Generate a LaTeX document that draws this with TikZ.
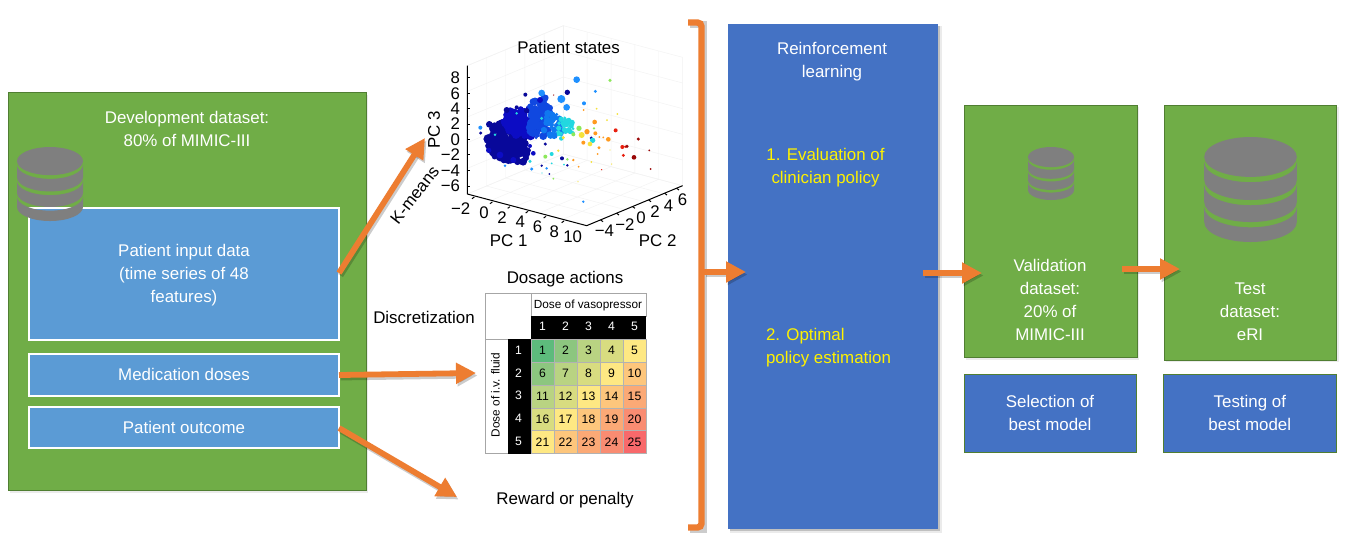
\documentclass[tikz,border=0pt]{standalone}
\usepackage{fontspec}
\setmainfont{Liberation Sans}
\usetikzlibrary{arrows.meta,calc}
\definecolor{grn}{HTML}{70AD47}
\definecolor{grnd}{HTML}{507E32}
\definecolor{lblue}{HTML}{5B9BD5}
\definecolor{dblue}{HTML}{4472C4}
\definecolor{orng}{HTML}{ED7D31}
\definecolor{dbgray}{HTML}{7F7F7F}
\tikzset{
  x=0.5pt,y=-0.5pt,
  every node/.style={font=\fontsize{8.45}{11.5}\selectfont,align=center,inner sep=0,outer sep=0},
  grnbox/.style={draw=grnd,line width=0.5pt,fill=grn},
  inbox/.style={draw=white,line width=0.9pt,fill=lblue},
  dbbox/.style={draw=grnd,line width=0.4pt,fill=dblue},
  wtext/.style={text=white},
  ytext/.style={text=yellow},
  bigarrow/.style={draw=orng,line width=2.9pt,-{Triangle[length=10pt,width=10pt]}},
  shadowarrow/.style={draw=black,opacity=0.2,line width=2.9pt,-{Triangle[length=10pt,width=10pt]}},
  gridln/.style={draw=black!5,line width=0.2pt},
  axln/.style={draw=black,line width=0.5pt},
  tick/.style={font=\fontsize{8.4}{10}\selectfont},
  small/.style={font=\fontsize{5.9}{7}\selectfont},
  cellnum/.style={font=\fontsize{6.1}{7}\selectfont},
}
\newcommand{\dbicon}[4]{% cx, top y, half width, height
  \begin{scope}[shift={(#1,#2)},x=#3*0.5pt/100,y=-#4*0.5pt/100]
    \fill[dbgray] (0,19) ellipse[x radius=100,y radius=19];
    \foreach \up/\lo in {24/41,46/62,67/81}{
      \fill[dbgray] (-100,\up) arc[start angle=180,end angle=0,x radius=100,y radius=19]
        -- (100,\lo) arc[start angle=0,end angle=180,x radius=100,y radius=19] -- cycle;
    }
  \end{scope}}
\newcommand{\dotlist}[2]{\foreach \a/\b/\r in {#2}{\fill[#1] (\a,\b) circle[radius=\r];}}
\newcommand{\blobs}[8]{% colour,count,cx,cy,sx,sy,rmin,rspan
  \foreach \i in {1,...,#2}{
    \pgfmathsetmacro{\angl}{360*rnd}\pgfmathsetmacro{\ss}{sqrt(rnd)}\pgfmathsetmacro{\rr}{#7+#8*rnd}
    \pgfmathsetmacro{\a}{#3+#5*\ss*cos(\angl)}
    \pgfmathsetmacro{\b}{#4+#6*\ss*sin(\angl)}
    \fill[#1] (\a,\b) circle[radius=\rr];
  }}
\begin{document}
\begin{tikzpicture}
\useasboundingbox (0,0) rectangle (1352,554);
\fill[white] (0,0) rectangle (1352,554);

% Development dataset
\fill[black,opacity=0.08] (10,95) rectangle (368,493);
\node[grnbox,minimum width=179pt,minimum height=199pt,anchor=north west] (dev) at (8,92.5) {};
\node[wtext] (devt) at (187,129) {Development dataset:\\80\% of MIMIC-III};
\node[inbox,minimum width=155pt,minimum height=66pt,anchor=north west] (input) at (29,208) {};
\node[wtext] (inputt) at (184,275) {Patient input data\\(time series of 48\\features)};
\node[inbox,minimum width=155pt,minimum height=21pt,anchor=north west] (med) at (29,354) {};
\node[wtext] at ($(med.center)+(0,-0.8)$) {Medication doses};
\node[inbox,minimum width=155pt,minimum height=20.5pt,anchor=north west] (out) at (29,407) {};
\node[wtext] at ($(out.center)+(0,-0.5)$) {Patient outcome};
\dbicon{50}{147}{33}{74}

% Scatter plot, drawn in the coordinates of a 3x crop
\begin{scope}[shift={(360,20)},x=0.5pt/3,y=-0.5pt/3]
  \foreach \t in {0,0.2,0.4,0.6,0.8,1}{
    \draw[gridln] ($(322,522)!\t!(680,617)$) -- ($(322,522)!\t!(680,617)+(288,-120)$) -- ++(0,-385);
    \draw[gridln] ($(680,617)!\t!(968,497)$) -- ($(680,617)!\t!(968,497)+(-358,-95)$) -- ++(0,-385);
    \draw[gridln] ($(322,522)!\t!(322,137)$) -- ++(288,-120) -- ++(358,95);
  }
  \draw[gridln] (322,137) -- (610,17);
  \draw[axln] (322,137) -- (322,522) -- (680,617) -- (968,497);
  \foreach \yy in {173,220,266,312,358,404,451,498}{\draw[axln] (322,\yy) -- (330,\yy);}
  \foreach \a/\b in {343/531,397/546,450/560,504/574,558/589,612/603}{\draw[axln] (\a,\b) -- ++(-7,5);}
  \foreach \a/\b in {722/600,770/580,818/560,866/540,914/520,950/505}{\draw[axln] (\a,\b) -- ++(7,5);}
  \foreach \l/\yy in {8/173,6/220,4/266,2/312,0/358,{−2}/404,{−4}/451,{−6}/498}{\node[tick,anchor=east] at (300,\yy) {\l};}
  \foreach \l/\a/\b in {{−2}/302/566,0/372/578,2/426/592,4/481/606,6/533/620,8/583/634,10/638/650}{\node[tick] at (\a,\b) {\l};}
  \foreach \l/\a/\b in {{−4}/733/632,{−2}/795/614,0/843/592,2/885/576,4/926/556,6/968/538}{\node[tick] at (\a,\b) {\l};}
  \node (pc1) at (446,663) {PC 1};
  \node (pc2) at (893,663) {PC 2};
  \node[rotate=90] (pc3) at (222,330) {PC 3};
  \node (pst) at (626,81) {Patient states};
  \node[rotate=52] (km) at (164,525) {K-means};

  \definecolor{jb}{HTML}{1E90FF}
  \definecolor{jc}{HTML}{22D8E0}
  \definecolor{jg}{HTML}{8CE85A}
  \definecolor{jy}{HTML}{F5E23A}
  \definecolor{jo}{HTML}{FF9A1E}
  \definecolor{jr}{HTML}{E8200F}
  \definecolor{jd}{HTML}{9A0808}
  \definecolor{jn}{HTML}{08089A}
  \definecolor{jm}{HTML}{0C0CC4}
  \definecolor{jl}{HTML}{1048E0}
  \definecolor{jk}{HTML}{1078F0}
  \definecolor{jt}{HTML}{20D0E0}
  \pgfmathsetseed{42}
  \blobs{jn}{150}{438}{364}{54}{60}{8}{7}
  \blobs{jn}{30}{480}{395}{32}{32}{8}{5}
  \blobs{jm}{95}{492}{306}{62}{44}{7}{7}
  \blobs{jl}{45}{540}{268}{30}{46}{6}{7}
  \blobs{jl}{35}{535}{325}{30}{32}{5}{7}
  \blobs{jk}{45}{578}{318}{32}{44}{4}{7}
  \blobs{jc}{30}{612}{325}{30}{32}{3}{6}
  \dotlist{jn}{440/270/9,470/262/6,500/272/8,388/313/10,362/339/5,556/372/5,606/415/6,622/436/4,545/437/4,568/462/3,694/354/5,496/224/6,622/217/8}
  \dotlist{jm}{420/405/10,386/391/8,460/420/9,540/240/9,520/400/7,510/378/6}
  \dotlist{jb}{650/179/10,706/214/5,545/219/10,604/237/12,620/262/10,361/323/6,435/437/4,515/447/5,560/445/4,670/545/4,672/250/6}
  \dotlist{jc}{405/344/4,470/280/4,545/295/5,510/424/5,575/402/6,612/434/3,698/361/8,546/459/2,575/430/3}
  \dotlist{jg}{750/181/5,657/325/8,640/343/6,556/410/6,622/418/4,580/476/3,702/325/4}
  \dotlist{jy}{710/266/3,741/300/3,772/282/3,665/345/9,690/372/7,595/392/4,750/390/2,694/426/3,755/432/2,654/485/2,610/353/5}
  \dotlist{jo}{704/306/7,681/335/8,706/340/6,745/358/7,718/351/3,730/352/3,717/383/5,670/368/6,640/420/4,656/440/3,713/402/3,671/270/3}
  \dotlist{jr}{767/331/6,787/381/6,790/406/5,796/380/4,725/449/2}
  \dotlist{jd}{835/357/5,801/379/5,822/412/7,868/391/3,872/447/3,581/225/2}
\end{scope}

\node (da) at (565,279.5) {Dosage actions};
\node (disc) at (424,317) {Discretization};
\node (rw) at (565,500.5) {Reward or penalty};

% Heat table
\draw[black!35,line width=0.4pt,fill=white] (485,293) rectangle (531,339);
\draw[black!35,line width=0.4pt,fill=white] (485,339) rectangle (508,453.5);
\draw[black!35,line width=0.4pt,fill=white] (531,293) rectangle (646,316);
\node[small] (vaso) at (588,305) {Dose of vasopressor};
\node[rotate=90,small] (fluid) at (495.5,395) {Dose of i.v. fluid};
\fill[black] (531,316) rectangle (646,339);
\fill[black] (508,339) rectangle (531,453.5);
\foreach \n in {1,...,5}{
  \node[text=white,cellnum] (c\n) at ({519.5+23*\n},326.5) {\n};
  \node[text=white,cellnum] (r\n) at (518.5,{327.5+22.7*\n}) {\n};
}
\definecolor{h1}{HTML}{5DBB7C}
\definecolor{h2}{HTML}{8CC67F}
\definecolor{h3}{HTML}{B9D382}
\definecolor{h4}{HTML}{D8DC80}
\definecolor{h5}{HTML}{FEE883}
\definecolor{h6}{HTML}{FDC67C}
\definecolor{h7}{HTML}{FBA976}
\definecolor{h8}{HTML}{F98C72}
\definecolor{h9}{HTML}{F8696B}
\foreach \cnum/\rnum/\lab/\col in {
 1/1/1/h1,2/1/2/h2,3/1/3/h3,4/1/4/h4,5/1/5/h5,
 1/2/6/h2,2/2/7/h3,3/2/8/h4,4/2/9/h5,5/2/10/h6,
 1/3/11/h3,2/3/12/h4,3/3/13/h5,4/3/14/h6,5/3/15/h7,
 1/4/16/h4,2/4/17/h5,3/4/18/h6,4/4/19/h7,5/4/20/h8,
 1/5/21/h5,2/5/22/h6,3/5/23/h7,4/5/24/h8,5/5/25/h9}{
  \fill[\col] ({531+23*(\cnum-1)},{339+22.9*(\rnum-1)}) rectangle ++(23,22.9);
  \draw[black!30,line width=0.2pt] ({531+23*(\cnum-1)},{339+22.9*(\rnum-1)}) rectangle ++(23,22.9);
  \node[cellnum] at ({542.5+23*(\cnum-1)},{350.5+22.9*(\rnum-1)}) {\lab};
}

% Reinforcement learning
\fill[black,opacity=0.08] (730,26) rectangle (941.5,532.5);
\fill[black,opacity=0.18] (729.5,25.5) rectangle (939.5,531);
\node[fill=dblue,minimum width=105pt,minimum height=252.5pt,anchor=north west] (rl) at (727.5,23.5) {};
\node[wtext] at (832,62) {Reinforcement\\learning};
\node[ytext] at (825.5,168) {1. Evaluation of\\clinician policy};
\node[ytext,align=left] at (828.5,347.5) {2. Optimal\\policy estimation};

% Validation and test
\fill[black,opacity=0.08] (966,107) rectangle (1139,360);
\fill[black,opacity=0.08] (1166,107) rectangle (1339,362);
\node[grnbox,minimum width=86.4pt,minimum height=126.3pt,anchor=north west] (val) at (964.5,105) {};
\node[grnbox,minimum width=86.2pt,minimum height=127.5pt,anchor=north west] (test) at (1164.5,105) {};
\dbicon{1051}{147}{23}{53}
\dbicon{1250.5}{137}{46.3}{105}
\node[wtext] at (1050,300) {Validation\\dataset:\\20\% of\\MIMIC-III};
\node[wtext] at (1250,311.5) {Test\\dataset:\\eRI};
\node[dbbox,minimum width=86pt,minimum height=39pt,anchor=north west] (sel) at (964,374) {};
\node[dbbox,minimum width=86.3pt,minimum height=39pt,anchor=north west] (tst) at (1163.5,374) {};
\node[wtext] at ($(sel.center)+(0,-0.5)$) {Selection of\\best model};
\node[wtext] at ($(tst.center)+(0,-0.5)$) {Testing of\\best model};

% Bracket
\draw[black,opacity=0.2,line width=3.2pt] (690,24.5) -- (703.5,24.5) -- (703.5,529.5) -- (690,529.5);
\draw[orng,line width=3.2pt,rounded corners=2pt] (688,22.5) -- (701.5,22.5) -- (701.5,527.5) -- (688,527.5);

% Arrows
\coordinate (a1s) at (339,273);\coordinate (a1e) at (425,138);
\coordinate (a2s) at (339,375);\coordinate (a2e) at (476,373);
\coordinate (a3s) at (339,428);\coordinate (a3e) at (457,497);
\coordinate (a4s) at (704,272);\coordinate (a4e) at (746,272);
\coordinate (a5s) at (923,273);\coordinate (a5e) at (982,273);
\coordinate (a6s) at (1122,269);\coordinate (a6e) at (1180,269);
\foreach \s/\e in {a1s/a1e,a2s/a2e,a3s/a3e,a4s/a4e,a5s/a5e,a6s/a6e}{
  \draw[shadowarrow] ($(\s)+(1.5,2.5)$) -- ($(\e)+(1.5,2.5)$);
  \draw[bigarrow] (\s) -- (\e);
}
\end{tikzpicture}
\end{document}
